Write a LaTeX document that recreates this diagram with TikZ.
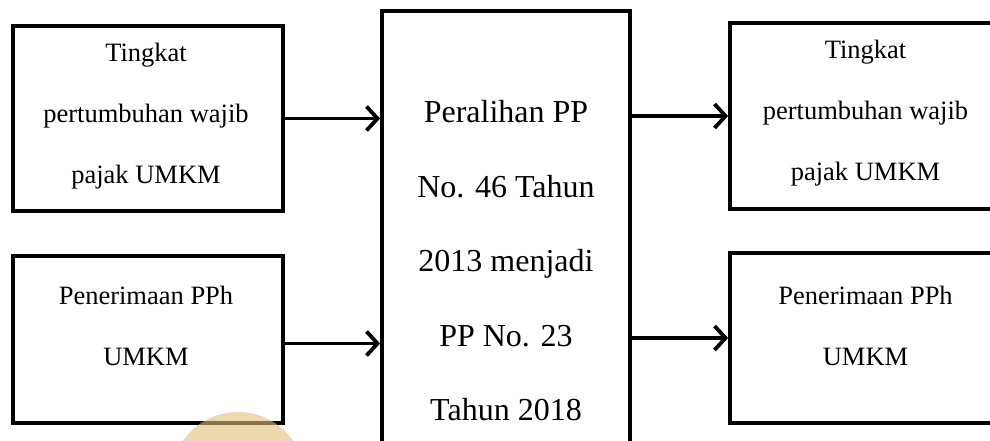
\documentclass[tikz,border=0pt]{standalone}
\usepackage{fontspec}
\setmainfont{Liberation Serif}
\usetikzlibrary{arrows.meta}
\definecolor{wm}{RGB}{227,191,123}
\tikzset{
  box/.style={draw=black, line width=3.8pt, fill=white, rectangle, inner sep=0pt},
  sidetext/.style={align=center, inner sep=0pt, font=\fontsize{26.5}{61}\selectfont},
  midtext/.style={align=center, inner sep=0pt, font=\fontsize{32}{74.5}\selectfont},
  conn/.style={line width=3.8pt, -{Straight Barb[length=11pt,width=24pt,line width=3.8pt]}}
}
\begin{document}
\begin{tikzpicture}[x=1pt,y=-1pt]
\useasboundingbox (0,0) rectangle (990,441);
\clip (0,0) rectangle (990,441);
\fill[white] (0,0) rectangle (990,441);
% boxes
\node[box, minimum width=270pt, minimum height=185pt] (lt) at (148,118.5) {};
\node[box, minimum width=270pt, minimum height=167pt] (lb) at (148,339.5) {};
\node[box, minimum width=248pt, minimum height=504pt] (mid) at (506,263) {};
\node[box, minimum width=271pt, minimum height=186pt] (rt) at (865.5,116) {};
\node[box, minimum width=271pt, minimum height=170pt] (rb) at (865.5,338) {};
% texts
\node[sidetext] (ltt) at (146,116) {Tingkat\\pertumbuhan wajib\\pajak UMKM};
\node[sidetext] (lbt) at (146,326) {Penerimaan PPh\\UMKM};
\node[midtext] (midt) at (506,261) {Peralihan PP\\No. 46 Tahun\\2013 menjadi\\PP No. 23\\Tahun 2018};
\node[sidetext] (rtt) at (865.5,113) {Tingkat\\pertumbuhan wajib\\pajak UMKM};
\node[sidetext] (rbt) at (865.5,326) {Penerimaan PPh\\UMKM};
% connectors
\draw[conn] (lt.east) -- (lt.east -| mid.west);
\draw[conn] ([yshift=-4pt]lb.east) -- ([yshift=-4pt]lb.east -| mid.west);
\draw[conn] (mid.east |- rt.west) -- (rt.west);
\draw[conn] (mid.east |- rb.west) -- (rb.west);
% watermark
\fill[wm, opacity=0.6] (238,479) circle (67);
\end{tikzpicture}
\end{document}
